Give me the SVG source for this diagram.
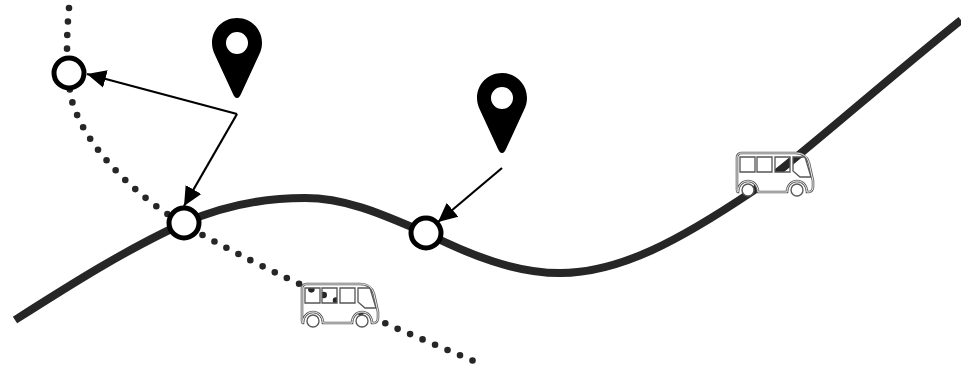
<svg xmlns="http://www.w3.org/2000/svg" width="961" height="369" viewBox="0 0 961 369">
<style>
.route{fill:none;stroke:#262626;stroke-width:8}
.dots{fill:none;stroke:#262626;stroke-width:6.6;stroke-linecap:round;stroke-dasharray:0 13.55}
.stop{fill:#fff;stroke:#000;stroke-width:5}
.conn{fill:none;stroke:#000;stroke-width:2.2}
.pin{fill:#000;fill-rule:evenodd}
.shell{fill:#fff;fill-rule:evenodd;stroke:none}
.outer{fill:none;stroke:#5a5a5a;stroke-width:2.6}
.inner{fill:none;stroke:#fff;stroke-width:.9}
.win{fill:none;stroke:#555;stroke-width:1.3}
.wheel{fill:#fff;stroke:#5a5a5a;stroke-width:1.4}
</style>
<defs>
<marker id="arrow" markerUnits="userSpaceOnUse" markerWidth="20" markerHeight="20" refX="19" refY="10" orient="auto"><path d="M0 1L19 10L0 19Z" fill="#000"/></marker>
<path id="pinshape" class="pin" d="M0 80C-2 80-3 78-4 76L-22 37C-24 33-25 29-25 25C-25 11-14 0 0 0C14 0 25 11 25 25C25 29 24 33 22 37L4 76C3 78 2 80 0 80ZM0 14A11 11 0 1 0 0 36A11 11 0 1 0 0 14Z"/>
<path id="busbody" d="M4 0H58C66 0 70 3 72 10L76 28V34C76 37 74 39 72 39H70C70 33 66 28 60 28C54 28 50 33 50 39H21C21 33 17 28 11 28C5 28 1 33 1 39C0 39 0 38 0 36V4C0 2 2 0 4 0Z"/>
<g id="bus">
<path class="shell" d="M4 0H58C66 0 70 3 72 10L76 28V34C76 37 74 39 72 39H70C70 33 66 28 60 28C54 28 50 33 50 39H21C21 33 17 28 11 28C5 28 1 33 1 39C0 39 0 38 0 36V4C0 2 2 0 4 0ZM3 4V19H18V4ZM20 4V19H35V4ZM38 4V19H53V4ZM56 4V18L63 24H74L68 4Z"/>
<path class="win" d="M3 4V19H18V4ZM20 4V19H35V4ZM38 4V19H53V4ZM56 4V18L63 24H74L68 4Z"/>
<use href="#busbody" class="outer"/>
<use href="#busbody" class="inner"/>
<circle class="wheel" cx="11" cy="37" r="6"/>
<circle class="wheel" cx="60" cy="37" r="6"/>
</g>
</defs>
<g id="connectors">
<path id="dotted-route" class="dots" d="M69 8C66 40 66 75 72 101C82 135 110 170 152 203C170 217 190 228 208 238C240 255 265 268 291 280L398 329L476 362"/>
<path id="solid-route" class="route" d="M15 320C70 285 125 250 184 223C225 205 265 198 305 198C350 198 390 218 426 233C470 255 515 273 560 273C620 273 680 240 753 191C790 165 880 85 961 20"/>
<path class="conn" d="M237 114L87 74" marker-end="url(#arrow)"/>
<path class="conn" d="M237 114L184 206" marker-end="url(#arrow)"/>
<path class="conn" d="M502 168L438 222" marker-end="url(#arrow)"/>
</g>
<g id="stop-1"><circle class="stop" cx="69" cy="73" r="15"/></g>
<g id="stop-2"><circle class="stop" cx="184" cy="223" r="15"/></g>
<g id="stop-3"><circle class="stop" cx="426" cy="233" r="15"/></g>
<g id="pin-1"><use href="#pinshape" x="237" y="18"/></g>
<g id="pin-2"><use href="#pinshape" x="502" y="73"/></g>
<g id="bus-1"><use href="#bus" x="302" y="284"/></g>
<g id="bus-2"><use href="#bus" x="737" y="153"/></g>
</svg>
